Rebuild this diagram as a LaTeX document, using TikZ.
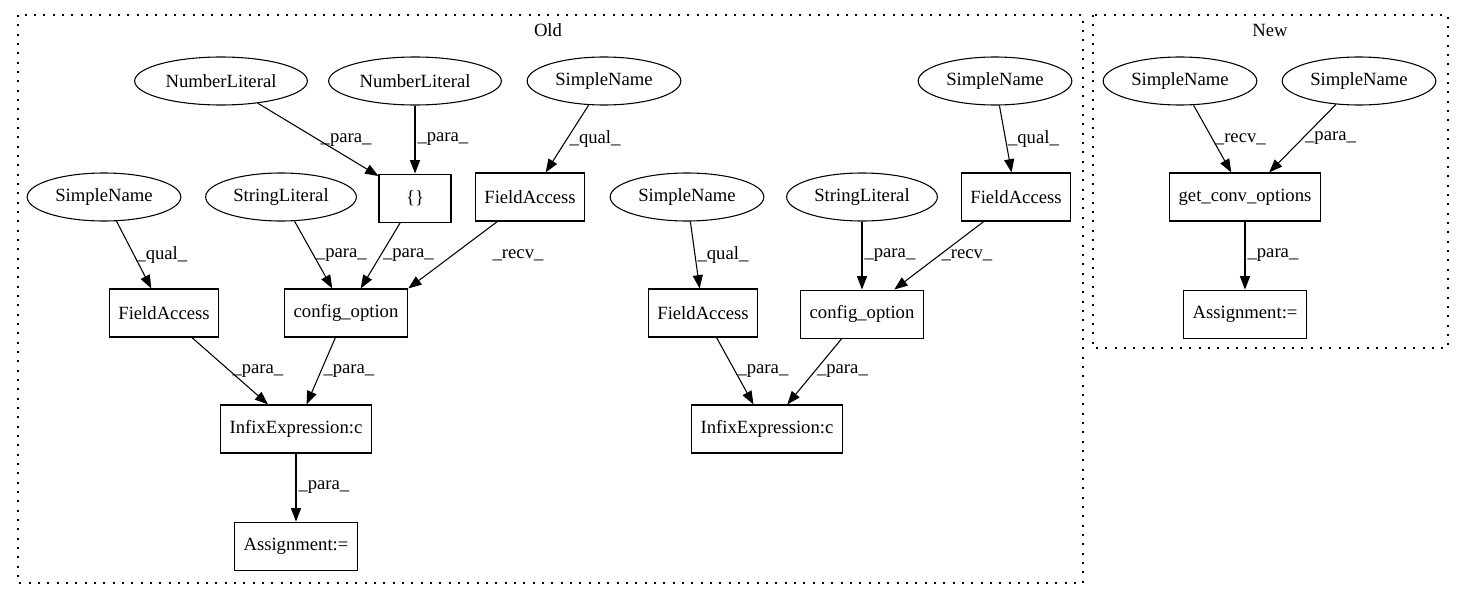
\documentclass[tikz,border=0pt]{standalone}
\usepackage{fontspec}
\setmainfont{Liberation Serif}
\usetikzlibrary{positioning,arrows.meta,shapes.geometric}

\tikzset{
  astnode/.style={draw,line width=0.8pt,minimum height=36pt,font=\fontsize{14}{16}\selectfont},
  astleaf/.style={astnode,ellipse,inner xsep=4.2pt},
  opbox/.style={astnode,rectangle,minimum width=54pt,inner xsep=7pt},
  lbl/.style={font=\fontsize{14}{16}\selectfont,anchor=west,inner sep=1.5pt},
  cluster/.style={line width=0.8pt,dash pattern=on 1.5pt off 5.5pt}
}

\begin{document}
\begin{tikzpicture}[x=0.75pt,y=-0.75pt,node distance=51pt,>={Triangle[length=10pt,width=7.5pt]}]
  \useasboundingbox (0,0) rectangle (1464,596);

  % clusters
  \draw[cluster] (18,15) rectangle (1083,583);
  \draw[cluster] (1093,15) rectangle (1448,348);
  \node[lbl,anchor=center] (OldTitle) at (548,30) {Old};
  \node[lbl,anchor=center] (NewTitle) at (1270,30) {New};

  % old version
  \node[astleaf] (NumLitA) at (221,81)  {NumberLiteral};
  \node[astleaf] (NumLitB) at (415,81)  {NumberLiteral};
  \node[astleaf] (NameA)   at (604,81)  {SimpleName};
  \node[astleaf] (NameB)   at (995,81)  {SimpleName};
  \node[astleaf] (NameC)   at (104,197) {SimpleName};
  \node[astleaf] (StrLitA) at (281,197) {StringLiteral};
  \node[opbox]   (Braces)  [below=of NumLitB] {\{\}};
  \node[opbox]   (FieldA)  at (530,197) {FieldAccess};
  \node[astleaf] (NameD)   at (687,197) {SimpleName};
  \node[astleaf] (StrLitB) at (862,197) {StringLiteral};
  \node[opbox]   (FieldB)  at (1016,197) {FieldAccess};
  \node[opbox]   (FieldC)  at (164,313) {FieldAccess};
  \node[opbox]   (ConfA)   at (346,313) {config\_option};
  \node[opbox]   (FieldD)  at (703,313) {FieldAccess};
  \node[opbox]   (ConfB)   [below=of StrLitB] {config\_option};
  \node[opbox]   (InfixA)  at (296,429) {InfixExpression:c};
  \node[opbox]   (InfixB)  at (767,429) {InfixExpression:c};
  \node[opbox]   (AssignA) [below=of InfixA] {Assignment:=};

  % new version
  \node[astleaf] (NameE)   at (1180,81) {SimpleName};
  \node[astleaf] (NameF)   at (1359,81) {SimpleName};
  \node[opbox]   (GetConv) at (1245,197) {get\_conv\_options};
  \node[opbox]   (AssignB) [below=of GetConv] {Assignment:=};

  \path[->,line width=0.8pt]
    (NumLitA) edge node[lbl]{\_para\_} (Braces)
    (NumLitB) edge node[lbl]{\_para\_} (Braces)
    (NameA)   edge node[lbl]{\_qual\_} (FieldA)
    (NameB)   edge node[lbl]{\_qual\_} (FieldB)
    (NameC)   edge node[lbl]{\_qual\_} (FieldC)
    (StrLitA) edge node[lbl]{\_para\_} (ConfA)
    (Braces)  edge node[lbl]{\_para\_} (ConfA)
    (FieldA)  edge node[lbl,xshift=28pt]{\_recv\_} (ConfA.north east)
    (NameD)   edge node[lbl]{\_qual\_} (FieldD)
    (StrLitB) edge node[lbl]{\_para\_} (ConfB)
    (FieldB)  edge node[lbl]{\_recv\_} (ConfB)
    (FieldC)  edge node[lbl]{\_para\_} (InfixA)
    (ConfA)   edge node[lbl]{\_para\_} (InfixA)
    (FieldD)  edge node[lbl]{\_para\_} (InfixB)
    (ConfB)   edge node[lbl]{\_para\_} (InfixB)
    (InfixA)  edge node[lbl]{\_para\_} (AssignA)
    (NameE)   edge node[lbl]{\_recv\_} (GetConv)
    (NameF)   edge node[lbl]{\_para\_} (GetConv)
    (GetConv) edge node[lbl]{\_para\_} (AssignB);
\end{tikzpicture}
\end{document}
